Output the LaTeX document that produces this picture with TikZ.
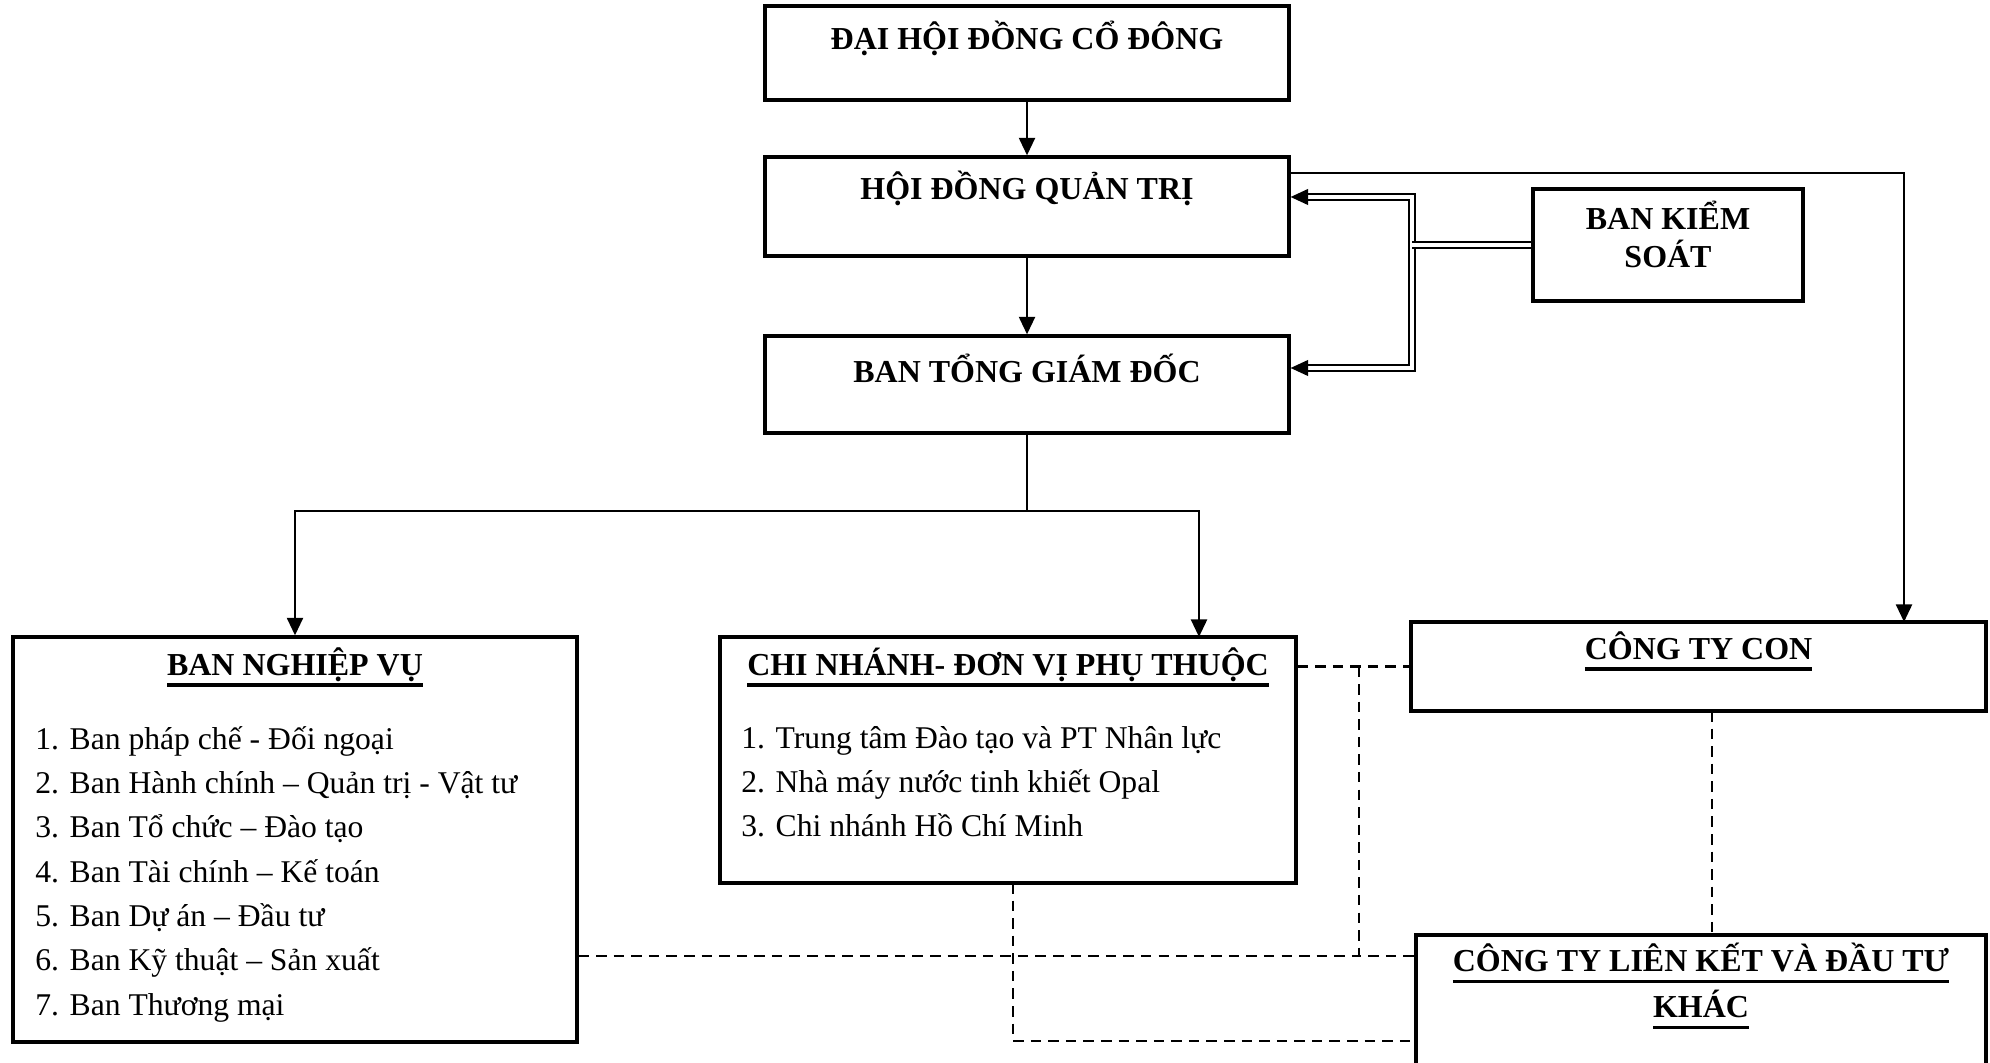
\documentclass[tikz,border=0pt]{standalone}
\usepackage{fontspec}
\setmainfont{Liberation Serif}
\usetikzlibrary{arrows.meta}
\newsavebox{\ulsave}
\newcommand{\ulhead}[1]{\sbox{\ulsave}{#1}\leavevmode\rlap{\rule[-3.2pt]{\wd\ulsave}{0.9pt}}\usebox{\ulsave}}

\begin{document}
\begin{tikzpicture}[line width=0.8pt,
  box/.style={draw, line width=0.9pt, inner sep=0pt},
  head/.style={font=\fontsize{9.1}{13}\selectfont\bfseries, align=center, inner sep=0pt},
  list/.style={font=\fontsize{9}{12.6}\selectfont, align=left, anchor=north west, inner sep=0pt},
  arr/.style={-{Triangle[length=5pt,width=4.5pt]}},
  dbl/.style={double, double distance=1.4pt, line width=0.5pt},
  dsh/.style={dash pattern=on 3pt off 2pt, line width=0.7pt}]

\useasboundingbox (0,0) rectangle (19.9,-10.63);

\node [box, minimum width=5.24cm, minimum height=0.94cm] (dhdcd) at (10.27,-0.53) {};
\node [head] (dhdcdT) at (10.27,-0.38) {ĐẠI HỘI ĐỒNG CỔ ĐÔNG};

\node [box, minimum width=5.24cm, minimum height=0.99cm] (hdqt) at (10.27,-2.065) {};
\node [head] (hdqtT) at (10.27,-1.88) {HỘI ĐỒNG QUẢN TRỊ};

\node [box, minimum width=5.24cm, minimum height=0.97cm] (btgd) at (10.27,-3.845) {};
\node [head] (btgdT) at (10.27,-3.68) {BAN TỔNG GIÁM ĐỐC};

\node [box, minimum width=2.70cm, minimum height=1.12cm] (bks) at (16.68,-2.45) {};
\node [head] (bksT) at (16.68,-2.345) {BAN KIỂM\\[-2.2pt]SOÁT};

\node [box, minimum width=5.64cm, minimum height=4.05cm] (bnv) at (2.95,-8.395) {};
\node [head] (bnvT) at (2.95,-6.67) {\ulhead{BAN NGHIỆP VỤ}};
\node [list] (bnvL) at (0.34,-7.25) {1. Ban pháp chế - Đối ngoại\\
2. Ban Hành chính – Quản trị - Vật tư\\
3. Ban Tổ chức – Đào tạo\\
4. Ban Tài chính – Kế toán\\
5. Ban Dự án – Đầu tư\\
6. Ban Kỹ thuật – Sản xuất\\
7. Ban Thương mại};

\node [box, minimum width=5.76cm, minimum height=2.46cm] (cn) at (10.08,-7.60) {};
\node [head] (cnT) at (10.08,-6.67) {\ulhead{CHI NHÁNH- ĐƠN VỊ PHỤ THUỘC}};
\node [list] (cnL) at (7.40,-7.25) {1. Trung tâm Đào tạo và PT Nhân lực\\
2. Nhà máy nước tinh khiết Opal\\
3. Chi nhánh Hồ Chí Minh};

\node [box, minimum width=5.75cm, minimum height=0.89cm] (ctc) at (16.985,-6.665) {};
\node [head] (ctcT) at (16.985,-6.51) {\ulhead{CÔNG TY CON}};

\node [box, minimum width=5.70cm, minimum height=1.65cm] (ctlk) at (17.01,-10.175) {};
\node [head] (ctlkT) at (17.01,-9.86) {\ulhead{CÔNG TY LIÊN KẾT VÀ ĐẦU TƯ}\\\ulhead{KHÁC}};

\coordinate (bus) at (10.27,-5.11);
\coordinate (cnin) at (11.99,-6.37);
\coordinate (hqo) at (12.89,-1.73);
\coordinate (ctcin) at (19.04,-6.22);
\coordinate (kq) at (14.12,-1.97);
\coordinate (kb) at (14.12,-3.68);
\coordinate (j1) at (13.59,-6.665);
\coordinate (j2) at (13.59,-9.56);
\coordinate (j3) at (10.13,-10.41);
\coordinate (cno) at (10.13,-8.83);
\coordinate (cto) at (17.12,-7.11);

\draw[arr] (dhdcd) -- (hdqt);
\draw[arr] (hdqt) -- (btgd);
\draw (btgd.south) -- (bus);
\draw[arr] (bus) -| (bnv.north);
\draw[arr] (bus) -| (cnin);
\draw[arr] (hqo) -| (ctcin);

\draw[dbl, {Triangle[length=5pt,width=4.5pt]}-{Triangle[length=5pt,width=4.5pt]}] (kq -| hdqt.east) -- (kq) -- (kb) -- (kb -| btgd.east);
\draw[dbl] (bks.west) -- (bks.west -| kq);

\draw[dsh] (cn.east |- j1) -- (ctc.west);
\draw[dsh] (j1) |- (ctlk.west |- j2);
\draw[dsh] (bnv.east |- j2) -- (j2);
\draw[dsh] (cno) |- (ctlk.west |- j3);
\draw[dsh] (cto) -- (cto |- ctlk.north);
\end{tikzpicture}
\end{document}
